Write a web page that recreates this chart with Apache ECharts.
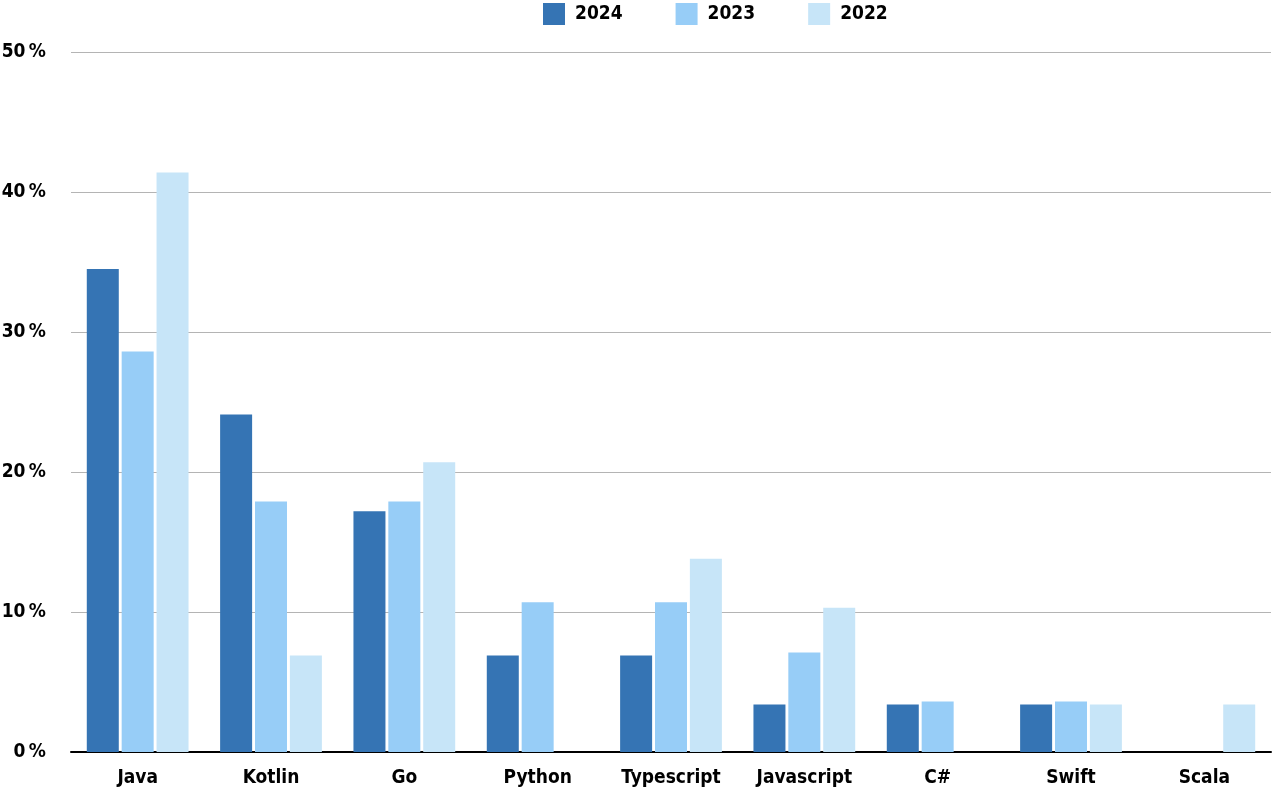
<!DOCTYPE html>
<html><head><meta charset="utf-8">
<script src="https://cdn.jsdelivr.net/npm/echarts@6/dist/echarts.min.js"></script>
<style>html,body{margin:0;padding:0;background:#fff}#c{width:1272px;height:788px}</style>
</head><body><div id="c"></div>
<script>
const categories = ["Java","Kotlin","Go","Python","Typescript","Javascript","C#","Swift","Scala"];
const s2024 = [34.5, 24.1, 17.2, 6.9, 6.9, 3.4, 3.4, 3.4, 0];
const s2023 = [28.6, 17.9, 17.9, 10.7, 10.7, 7.1, 3.6, 3.6, 0];
const s2022 = [41.4, 6.9, 20.7, 0, 13.8, 10.3, 0, 3.4, 3.4];
const yTicks = [0, 10, 20, 30, 40, 50];
const FONT = '"DejaVu Sans Condensed",sans-serif';
const chart = echarts.init(document.getElementById('c'));
const mk = (name, data, color) => ({
  name, type: 'bar', data: data.map(v => v === 0 ? null : v), barWidth: 32, barGap: '9%',
  itemStyle: { color }
});
chart.setOption({
  animation: false,
  textStyle: { fontFamily: FONT },
  legend: {
    top: 3, left: 543, padding: 0, itemWidth: 22, itemHeight: 22, itemGap: 53,
    icon: 'rect',
    textStyle: { fontFamily: FONT, fontSize: 19, fontWeight: 'bold', color: '#000', padding: [0, 0, 0, 5] }
  },
  grid: { left: 71, right: 1, top: 52, bottom: 36, containLabel: false, outerBoundsMode: 'none' },
  xAxis: {
    type: 'category', data: categories,
    axisLine: { lineStyle: { color: '#000', width: 2 } },
    axisTick: { show: false },
    axisLabel: { interval: 0, margin: 17, fontFamily: FONT, fontSize: 19, fontWeight: 'bold', color: '#000' }
  },
  yAxis: {
    type: 'value', min: 0, max: 50, interval: 10,
    axisLine: { show: false }, axisTick: { show: false },
    splitLine: { lineStyle: { color: '#b4b4b4', width: 1 } },
    axisLabel: { margin: 25, fontFamily: FONT, fontSize: 19, fontWeight: 'bold', color: '#000',
      formatter: v => yTicks.includes(v) ? v + '\u2009%' : '' }
  },
  series: [
    mk('2024', s2024, '#3574b4'),
    mk('2023', s2023, '#97cdf7'),
    mk('2022', s2022, '#c7e5f8')
  ]
});
</script></body></html>
